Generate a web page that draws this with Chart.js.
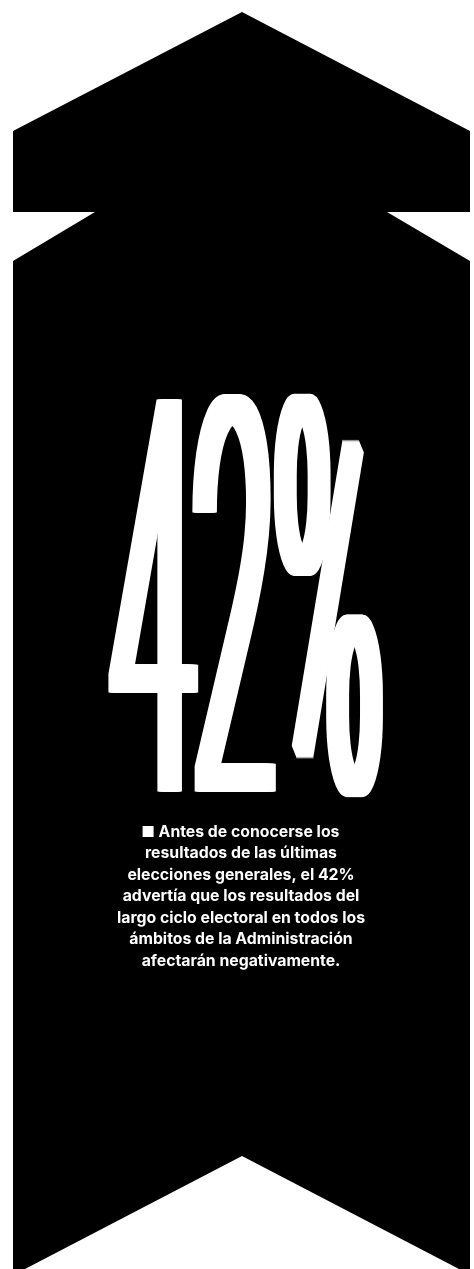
<!DOCTYPE html>
<html>
<head>
<meta charset="utf-8">
<script src="https://cdn.jsdelivr.net/npm/chart.js@4.4.0/dist/chart.umd.min.js"></script>
<style>
  html, body { margin: 0; padding: 0; background: #fff; }
  #chart { display: block; }
</style>
</head>
<body>
<canvas id="chart" width="474" height="1269"></canvas>
<script>
// data
var values = [42]
var valueSuffix = '%'
var captionLines = [
    'Antes de conocerse los',
    'resultados de las últimas',
    'elecciones generales, el 42%',
    'advertía que los resultados del',
    'largo ciclo electoral en todos los',
    'ámbitos de la Administración',
    'afectarán negativamente.'
]

// arrow outline (decoration, in canvas units)
var arrowShape = [
    [242, 12], [470, 131], [470, 212], [387, 212], [470, 261], [470, 1269],
    [459, 1269], [242, 1156], [25, 1269], [13, 1269], [13, 261], [95, 212],
    [13, 212], [13, 131]
]

var infographic = {
    id: 'infographic',
    beforeDatasetsDraw: function (chart) {
        var ctx = chart.ctx
        var sx = chart.scales.x, sy = chart.scales.y
        ctx.save()

        // black arrow
        ctx.beginPath()
        arrowShape.forEach(function (p, i) {
            var px = sx.getPixelForValue(p[0]), py = sy.getPixelForValue(p[1])
            if (i === 0) ctx.moveTo(px, py); else ctx.lineTo(px, py)
        })
        ctx.closePath()
        ctx.fillStyle = '#000'
        ctx.fill()

        // big number, stretched into its box
        var big = values[0] + valueSuffix
        var left = sx.getPixelForValue(108), right = sx.getPixelForValue(383)
        var top = sy.getPixelForValue(389), bottom = sy.getPixelForValue(797)
        var thick = 16
        ctx.font = '300 100px Roboto'
        var m = ctx.measureText(big)
        var w = m.actualBoundingBoxLeft + m.actualBoundingBoxRight
        var h = m.actualBoundingBoxAscent + m.actualBoundingBoxDescent
        var kx = (right - left - thick) / w
        var ky = (bottom - top) / h
        ctx.translate(left + m.actualBoundingBoxLeft * kx, top + m.actualBoundingBoxAscent * ky)
        ctx.scale(kx, ky)
        ctx.fillStyle = '#fff'
        ctx.textBaseline = 'alphabetic'
        for (var d = 0; d <= thick; d++) {
            ctx.fillText(big, d / kx, 0)
        }
        ctx.setTransform(1, 0, 0, 1, 0, 0)

        // caption, sized so the widest line fits its width
        ctx.font = 'bold 14px Inter'
        var fs = 14 * 248 / ctx.measureText(captionLines[4]).width
        ctx.font = 'bold ' + fs.toFixed(2) + 'px Inter'
        ctx.textBaseline = 'middle'
        ctx.textAlign = 'left'
        var cx = sx.getPixelForValue(241)
        captionLines.forEach(function (line, i) {
            var y = sy.getPixelForValue(832 + i * 21.5)
            var tw = ctx.measureText(line).width
            if (i === 0) {
                var total = 11 + 5 + tw
                var x0 = cx - total / 2
                ctx.fillRect(x0, y - 6, 11, 11)
                ctx.fillText(line, x0 + 16, y)
            } else {
                ctx.fillText(line, cx - tw / 2, y)
            }
        })
        ctx.restore()
    }
}

var chart = new Chart(document.getElementById('chart').getContext('2d'), {
    type: 'scatter',
    data: { datasets: [{ data: [] }] },
    options: {
        responsive: false,
        animation: false,
        layout: { padding: 0 },
        plugins: { legend: { display: false }, tooltip: { enabled: false } },
        scales: {
            x: { type: 'linear', min: 0, max: 474, display: false },
            y: { type: 'linear', min: 0, max: 1269, reverse: true, display: false }
        }
    },
    plugins: [infographic]
})
</script>
</body>
</html>
